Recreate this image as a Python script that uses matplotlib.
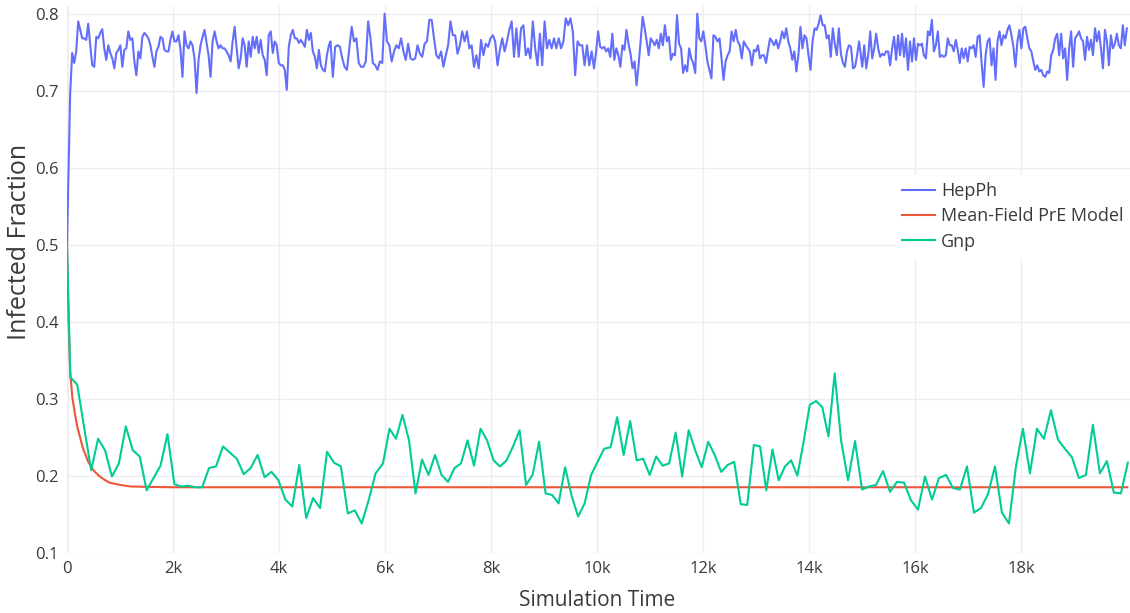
import numpy as np
import matplotlib
matplotlib.use("Agg")
import matplotlib.pyplot as plt

# ---------------- data ----------------
hepph_start = 0.5
hepph_seg1 = [
0.697,0.749,0.736,0.751,0.790,0.779,0.768,0.768,0.766,0.787,
0.759,0.733,0.731,0.770,0.768,0.775,0.780,0.755,0.740,0.759,
0.749,0.742,0.729,0.749,0.753,0.759,0.731,0.753,0.755,0.777,
0.766,0.768,0.738,0.720,0.751,0.742,0.770,0.775,0.772,0.768,
0.759,0.744,0.731,0.751,0.757,0.770,0.768,0.753,0.751,0.751,
0.766,0.777,0.764,0.764,0.772,0.753,0.718,0.777,0.759,0.755,
0.764,0.759,0.742,0.697,0.740,0.759,0.770,0.779,0.762,0.746,
0.718,0.764,0.777,0.764,0.755,0.759,0.755,0.755,0.751,0.746,
0.738,0.764,0.783,0.755,0.729,0.742,0.768,0.759,0.731,0.764,
0.744,0.770,0.755,0.770,0.749,0.766,0.746,0.740,0.720,0.772,
0.777,0.749,0.764,0.759,0.736,0.733,0.733,0.727,0.701,0.757,
0.772,0.779,0.768,0.768,0.762,0.766,0.762,0.757,0.779,0.766,
0.775,0.751,0.744,0.729,0.753,0.733,0.727,0.725,0.746,0.759]
hepph_seg2 = [
0.764,0.718,0.757,0.759,0.757,0.742,0.731,0.727,0.755,0.783,
0.764,0.768,0.736,0.731,0.731,0.738,0.790,0.768,0.736,0.733,
0.727,0.738,0.736,0.800,0.764,0.759,0.738,0.751,0.759,0.755,
0.768,0.751,0.740,0.761,0.742,0.740,0.742,0.759,0.748,0.744,
0.761,0.764,0.792,0.792,0.768,0.746,0.742,0.751,0.731,0.746,
0.759,0.790,0.772,0.772,0.748,0.759,0.777,0.764,0.777,0.755,
0.759,0.731,0.746,0.729,0.766,0.746,0.761,0.757,0.768,0.772,
0.764,0.733,0.753,0.768,0.751,0.764,0.779,0.790,0.744,0.781,
0.744,0.781,0.785,0.746,0.755,0.742,0.790,0.755,0.733,0.774,
0.733,0.790,0.755,0.766,0.755,0.768,0.755,0.768,0.755,0.764,
0.794,0.785,0.794,0.777,0.720,0.764,0.759,0.759,0.733,0.759,
0.733,0.751,0.729]
hepph_seg3 = [
0.751,0.777,0.757,0.755,0.757,0.751,0.755,0.744,0.774,0.740,
0.755,0.746,0.731,0.759,0.753,0.779,0.761,0.748,0.729,0.738,
0.707,0.733,0.764,0.796,0.781,0.764,0.746,0.768,0.764,0.759,
0.766,0.755,0.774,0.759,0.785,0.764,0.770,0.740,0.748,0.746,
0.798,0.761,0.755,0.723,0.733,0.725,0.755,0.742,0.736,0.723,
0.800,0.768,0.764,0.777,0.759,0.738,0.727,0.716,0.772,0.770,
0.764,0.768,0.742,0.714,0.738,0.746,0.751,0.777,0.764,0.779,
0.764,0.759,0.742,0.764,0.759,0.755,0.751,0.733,0.753,0.751,
0.759,0.742,0.746,0.746,0.736,0.753,0.768,0.764,0.759,0.766,
0.755,0.764,0.777,0.768,0.781,0.764,0.755,0.740,0.751,0.725,
0.746,0.783,0.755,0.772,0.768,0.746,0.727,0.764,0.781,0.779,
0.787,0.798,0.785,0.785,0.768,0.772,0.744,0.781,0.761,0.746,
0.781,0.748,0.736,0.731,0.751,0.759,0.757,0.729,0.731,0.746,
0.764]
hepph_seg4 = [
0.731,0.759,0.729,0.746,0.777,0.742,0.755,0.774,0.755,0.744,
0.748,0.746,0.751,0.751,0.733,0.755,0.770,0.740,0.772,0.746,
0.774,0.744,0.768,0.727,0.764,0.738,0.768,0.740,0.761,0.759,
0.761,0.746,0.742,0.777,0.772,0.792,0.751,0.759,0.777,0.744,
0.746,0.744,0.746,0.768,0.759,0.759,0.751,0.766,0.753,0.736,
0.755,0.742,0.755,0.738,0.757,0.755,0.759,0.744,0.770,0.772,
0.736,0.705,0.746,0.764,0.768,0.733,0.755,0.714,0.764,0.777,
0.759,0.772,0.768,0.779,0.785,0.772,0.757,0.731,0.764,0.779,
0.755,0.781,0.783,0.768,0.755,0.751,0.738,0.727,0.733,0.725,
0.727,0.720,0.718,0.725,0.723,0.746,0.753,0.768,0.774,0.746,
0.774,0.742,0.755,0.714,0.755,0.777,0.731,0.768,0.772,0.777,
0.768,0.764,0.740,0.770,0.753,0.766,0.746,0.781,0.764,0.777,
0.755,0.729,0.779,0.764,0.733,0.772,0.755,0.761,0.774,0.759,
0.755,0.785,0.759,0.781]
# time span (start, end) of each HepPh segment
hepph_spans = [(60, 4940), (4970, 9940), (9980, 14940), (15000, 19990)]

meanfield_t = [0, 30, 60, 100, 150, 200, 300, 400, 500, 600, 700, 800, 1000, 1200, 1500, 2000, 20000]
meanfield_v = [0.5, 0.40, 0.335, 0.302, 0.280, 0.262, 0.236, 0.218, 0.207, 0.200, 0.195, 0.191,
               0.188, 0.186, 0.1855, 0.185, 0.185]

gnp_start = 0.5
gnp_seg1 = [
0.328, 0.318, 0.262, 0.207, 0.248, 0.233, 0.199, 0.216, 0.264, 0.233, 0.225, 0.181,
0.197, 0.213, 0.254, 0.189, 0.186, 0.187, 0.185, 0.185, 0.210, 0.212, 0.238, 0.230, 0.222,
0.202, 0.210, 0.227, 0.198, 0.205, 0.194, 0.169, 0.160, 0.214, 0.145, 0.171, 0.158, 0.231,
0.217, 0.212, 0.151, 0.155, 0.138, 0.168, 0.203]
gnp_seg2 = [
0.216,0.261,0.248,0.279,0.246,0.177,0.221,0.201,0.227,0.201,0.192,0.210,0.216,0.246,0.213,
0.261,0.246,0.220,0.212,0.220,0.238,0.259,0.188,0.201,0.244,0.177,0.175,0.164,0.211,0.174,
0.147,0.164,0.201,0.218,0.235,0.237,0.276,0.227,0.271,0.220,0.222,0.201,0.225,0.213,0.216,
0.256,0.199,0.259,0.233,0.211,0.244,0.227,0.205,0.214,0.218,0.163,0.162]
gnp_seg3a = [
0.240,0.238,0.181,0.234,0.194,0.212,0.220,0.200,0.244,0.292,0.297,0.289,0.251,0.333]
gnp_seg3b = [0.246,
0.194,0.245,0.182,0.186,0.188,0.206,0.179,0.192,0.191,0.168,0.156,0.199,0.169,0.197,0.201,
0.184,0.182,0.212,0.152,0.158,0.176,0.212,0.152,0.138,0.212,0.261,0.203,0.261,0.248,0.285,
0.247,0.235,0.224,0.197,0.201,0.266,0.203,0.219,0.178,0.177,0.217]
gnp_spans = [(63, 5820), (5960, 12830), (12955, 14480), (14600, 20010)]

x_ticks = [0, 2000, 4000, 6000, 8000, 10000, 12000, 14000, 16000, 18000]
x_tick_labels = ["0", "2k", "4k", "6k", "8k", "10k", "12k", "14k", "16k", "18k"]
y_ticks = [0.1, 0.2, 0.3, 0.4, 0.5, 0.6, 0.7, 0.8]
y_tick_labels = ["0.1", "0.2", "0.3", "0.4", "0.5", "0.6", "0.7", "0.8"]

series_names = ["HepPh", "Mean-Field PrE Model", "Gnp"]
colors = ["#636efa", "#ef553b", "#00cc96"]

# ---------------- build ----------------
hep_t = [0.0]
hep_v = [hepph_start]
for seg, (a, b) in zip([hepph_seg1, hepph_seg2, hepph_seg3, hepph_seg4], hepph_spans):
    hep_t.extend(np.linspace(a, b, len(seg)))
    hep_v.extend(seg)
gnp_t = [0.0]
gnp_v = [gnp_start]
for seg, (a, b) in zip([gnp_seg1, gnp_seg2, gnp_seg3a, gnp_seg3b], gnp_spans):
    gnp_t.extend(np.linspace(a, b, len(seg)))
    gnp_v.extend(seg)

plt.rcParams['font.family'] = ['Open Sans', 'DejaVu Sans']
W, H = 1130, 613
fig = plt.figure(figsize=(W / 100, H / 100), dpi=100)
ax = fig.add_axes([67 / W, 1 - 552.7 / H, (1130 - 67) / W, (552.7 - 6) / H])

grid_c = "#ebeef3"
ax.set_facecolor("white")
for s in ax.spines.values():
    s.set_visible(False)
ax.set_xticks(x_ticks)
ax.set_xticklabels(x_tick_labels)
ax.set_yticks(y_ticks)
ax.set_yticklabels(y_tick_labels)
ax.grid(True, color=grid_c, linewidth=1.0)
ax.set_axisbelow(True)
ax.axvline(0, color=grid_c, linewidth=2, zorder=0)
ax.tick_params(length=0, labelsize=12, colors="#3a3a3a", pad=6)
ax.set_xlim(0, 20050)
ax.set_ylim(0.1, 0.81)

ax.plot(hep_t, hep_v, color=colors[0], lw=1.5, label=series_names[0], solid_joinstyle="round")
ax.plot(meanfield_t, meanfield_v, color=colors[1], lw=1.5, label=series_names[1])
ax.plot(gnp_t, gnp_v, color=colors[2], lw=1.5, label=series_names[2], solid_joinstyle="round")

leg = ax.legend(loc="upper left", bbox_to_anchor=(886 / W, 1 - 166 / H),
                bbox_transform=fig.transFigure, frameon=True, fontsize=13,
                handlelength=1.8, handletextpad=0.35, borderpad=0.4, labelspacing=0.4,
                fancybox=False, edgecolor="white", framealpha=1.0)
for t in leg.get_texts():
    t.set_color("#3a3a3a")
leg.get_frame().set_linewidth(0)

fig.text(597 / W, 1 - 600 / H, "Simulation Time", ha="center", va="center",
         fontsize=15, color="#3a3a3a")
fig.text(20 / W, 1 - 242 / H, "Infected Fraction", ha="center", va="center",
         rotation=90, fontsize=18, color="#3a3a3a")

fig.savefig("out.png", dpi=100)
